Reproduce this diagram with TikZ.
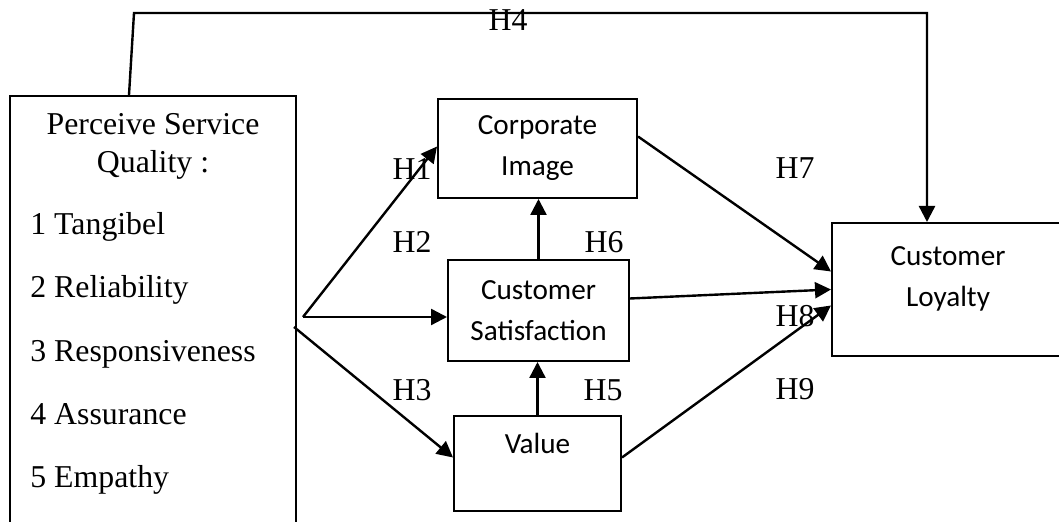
\documentclass[tikz,border=0pt]{standalone}
\usepackage{fontspec}
\setmainfont{Liberation Serif}
\newfontfamily\calibri{Carlito}
\usetikzlibrary{arrows.meta}

\newcommand{\tnrsize}{\fontsize{15.9pt}{19pt}\selectfont}
\newcommand{\calsize}{\calibri\fontsize{14.6pt}{20.5pt}\selectfont}

\tikzset{
  varbox/.style={draw, line width=1pt, inner sep=0pt, align=center, font=\calsize},
  hyp/.style={font=\tnrsize, inner sep=0pt},
  item/.style={font=\tnrsize, anchor=base west, inner sep=0pt},
  path/.style={line width=1.2pt, -{Triangle[length=8pt,width=8pt]}}
}

\begin{document}
\begin{tikzpicture}[x=0.5pt, y=-0.5pt]
  \useasboundingbox (0,0) rectangle (1059,522);
  \clip (0,0) rectangle (1059,522);

  % perceived service quality (box runs off the bottom)
  \node[draw, line width=1pt, inner sep=0pt, minimum width=143pt,
        minimum height=222pt] (psq) at (153,318) {};
  \node[font=\tnrsize, anchor=base, inner sep=0pt] (title1) at (153,135) {Perceive Service};
  \node[font=\tnrsize, anchor=base, inner sep=0pt] (title2) at (153,173) {Quality :};
  \node[item] (item1) at (30,235) {1 Tangibel};
  \node[item] (item2) at (30,298) {2 Reliability};
  \node[item] (item3) at (30,362) {3 Responsiveness};
  \node[item] (item4) at (30,425) {4 Assurance};
  \node[item] (item5) at (30,488) {5 Empathy};

  % middle and right boxes
  \node[varbox, minimum width=99.5pt, minimum height=49.5pt] (ci) at (537.5,148.5)
    {Corporate\\Image};
  \node[varbox, minimum width=90.5pt, minimum height=50.5pt] (cs) at (538.5,310.5)
    {Customer\\Satisfaction};
  \node[varbox, minimum width=83.5pt, minimum height=47.5pt] (val) at (537.5,463.5)
    {Value\\~};
  \node[varbox, minimum width=116pt, minimum height=66.5pt] (cl) at (948,289.5)
    {Customer\\Loyalty\\[-8pt]~};

  % connectors
  \coordinate (fan) at (303,317);
  \coordinate (fanlow) at (294,327);
  \coordinate (topl) at (134,13);
  \coordinate (topr) at (927,13);
  \draw[path] (fan) -- ([yshift=1pt]ci.west);
  \draw[path] (fan) -- (fan -| cs.west);
  \draw[path] (fanlow) -- ([yshift=3pt]val.west);
  \draw[path] (cs.north) -- (cs.north |- ci.south);
  \draw[path] (val.north) -- (val.north |- cs.south);
  \draw[path] ([yshift=6pt]ci.east) -- ([yshift=9pt]cl.west);
  \draw[path] ([yshift=6pt]cs.east) -- (cl.west);
  \draw[path] ([yshift=3pt]val.east) -- ([yshift=-8pt]cl.west);
  \draw[path] ([xshift=60pt]psq.north west) -- (topl) -- (topr) -- (topr |- cl.north);

  % hypothesis labels
  \node[hyp] (h1) at (412,169) {H1};
  \node[hyp] (h2) at (412,242) {H2};
  \node[hyp] (h3) at (412,390) {H3};
  \node[hyp] (h4) at (508,20) {H4};
  \node[hyp] (h5) at (603,390) {H5};
  \node[hyp] (h6) at (604,242) {H6};
  \node[hyp] (h7) at (795,168) {H7};
  \node[hyp] (h8) at (795,316) {H8};
  \node[hyp] (h9) at (795,389) {H9};
\end{tikzpicture}
\end{document}
